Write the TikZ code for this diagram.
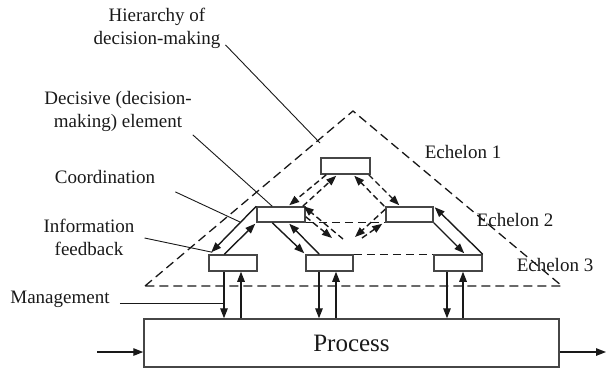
\documentclass[tikz,border=0pt]{standalone}
\usepackage{fontspec}
\setmainfont{Liberation Serif}
\newfontfamily\labelfont{Liberation Serif}
\usetikzlibrary{arrows.meta,calc}
\definecolor{boxgray}{RGB}{70,70,70}
\definecolor{ink}{RGB}{25,25,25}
\begin{document}
\begin{tikzpicture}[x=1pt,y=-1pt,
  lbl/.style={font=\labelfont\fontsize{19}{23}\selectfont, align=center, inner sep=0pt, text=ink},
  unit/.style={draw=boxgray, line width=1.5pt, minimum width=48pt, minimum height=16pt, inner sep=0pt, fill=white},
  tip/.style={-{Triangle[length=10pt,width=7.5pt]}},
  link/.style={draw=ink, line width=1.4pt, tip},
  dlink/.style={link, dash pattern=on 6pt off 3.5pt},
  dline/.style={draw=ink, line width=1.3pt, dash pattern=on 9pt off 5pt},
  leader/.style={draw=ink, line width=0.9pt}]
\useasboundingbox (0,0) rectangle (606,368);

% hierarchy triangle
\coordinate (tl) at (145,286);
\coordinate (tt) at (353,111);
\coordinate (tr) at (562,286);
\draw[dline] (tl) -- (tt) -- (tr) -- cycle;

% decision elements by echelon
\node[unit, minimum width=49pt] (e1) at (345.5,166) {};
\node[unit, minimum height=15pt] (e2l) at (281,214.5) {};
\node[unit, minimum width=47pt, minimum height=15pt] (e2r) at (409.5,214.5) {};
\node[unit] (e3l) at (233,263) {};
\node[unit, minimum width=47pt] (e3m) at (329.5,263) {};
\node[unit] (e3r) at (458,263) {};

% controlled process
\node[draw=boxgray, line width=1.5pt, minimum width=415pt, minimum height=48pt, inner sep=0pt,
      font=\labelfont\fontsize{25}{30}\selectfont, text=ink] (proc) at (351.5,343) {Process};

% links within an echelon
\draw[dline, dash pattern=on 8pt off 5pt] (e2l.south east) -- (e2r.south west);
\draw[dline, dash pattern=on 8pt off 5pt] (e3m.north east) -- (e3r.north west);

% echelon 2 <-> echelon 3
\draw[link] (e2l.north west) -- ($(e3l.north west)+(3,-2)$);
\draw[link] ($(e3l.north west)+(16,0)$) -- ($(e2l.south west)+(-1,1)$);
\draw[link] ($(e2l.south west)+(16,0)$) -- ($(e3m.north west)+(-1,-1)$);
\draw[link] ($(e3m.north west)+(14,0)$) -- ($(e2l.south west)+(33,1)$);
\draw[link] (e3r.north east) -- ($(e2r.north east)+(1,1)$);
\draw[link] (e2r.south east) -- ($(e3r.north west)+(31,-1)$);

% echelon 1 <-> echelon 2 (coordination)
\draw[dlink] ($(e1.south west)+(6,0)$) -- ($(e2l.north west)+(33,-1)$);
\draw[dlink] ($(e2l.north east)+(-3,0)$) -- ($(e1.south west)+(16,1)$);
\draw[dlink] ($(e1.south east)+(-2,0)$) -- ($(e2r.north west)+(14,-1)$);
\draw[dlink] ($(e2r.north west)+(-1,0)$) -- ($(e1.south west)+(34,1)$);

% crossing coordination links between the echelon 2 elements
\coordinate (dl) at (343,239);
\coordinate (dr) at (362,238);
\draw[dlink] (dl) -- ($(e2l.north east)+(-2,0)$);
\draw[dlink] ($(e2l.south east)+(0,-6)$) -- (332,238);
\draw[dlink] ($(e2r.north west)+(0,3)$) -- (355,237);
\draw[dlink] (dr) -- ($(e2r.south west)+(-3,1)$);

% management and feedback between echelon 3 and the process
\foreach \n/\d/\u in {e3l/224/241, e3m/319/336, e3r/447/463}{
  \draw[link] (\d,0 |- \n.south) -- (\d,0 |- proc.north);
  \draw[link] (\u,0 |- proc.north) -- (\u,0 |- \n.south);
}

% process input and output
\coordinate (pin) at (97,352);
\coordinate (pout) at (606,352);
\draw[link] (pin) -- (pin -| proc.west);
\draw[link] (pout -| proc.east) -- (pout);

% labels
\node[lbl] (hier) at (157,28.5) {Hierarchy of\\decision-making};
\node[lbl] (deci) at (118,111.5) {Decisive (decision-\\making) element};
\node[lbl] (coord) at (105,177) {Coordination};
\node[lbl] (info) at (89,237) {Information\\feedback};
\node[lbl] (mgmt) at (60,299) {Management};
\node[lbl] (ech1) at (463,152) {Echelon 1};
\node[lbl] (ech2) at (515,220) {Echelon 2};
\node[lbl] (ech3) at (555,265) {Echelon 3};

% leader lines
\draw[leader] ($(hier.south east)+(5,-4)$) -- (320,143);
\draw[leader] ($(deci.south east)+(1,3)$) -- ($(e2l.north west)+(16,0)$);
\draw[leader] ($(coord.south east)+(20,8)$) -- (240,222);
\draw[leader] ($(info.east)+(10,1)$) -- ($(e3l.north west)+(4,-2)$);
\draw[leader] ($(mgmt.east)+(10,4)$) -- (224,303);
\end{tikzpicture}
\end{document}
